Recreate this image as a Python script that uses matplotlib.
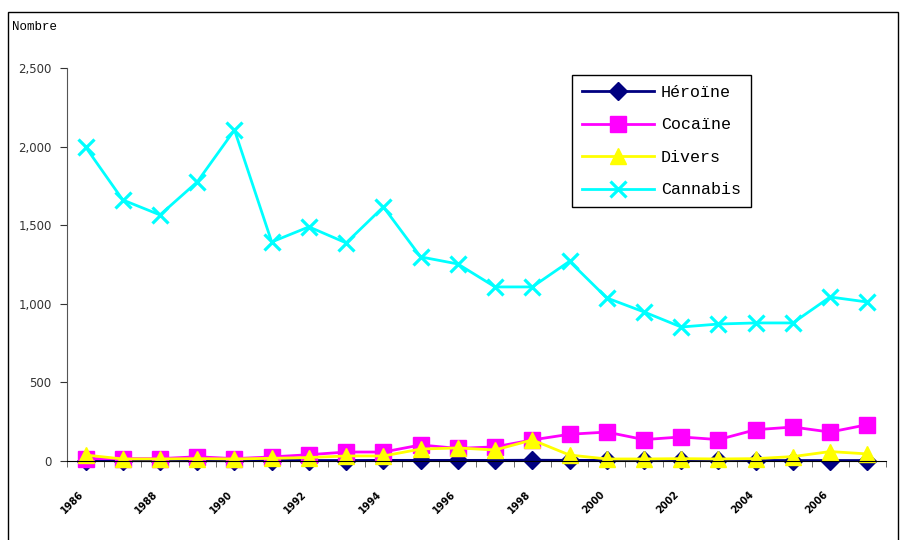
import numpy as np
import matplotlib.pyplot as plt
import matplotlib.transforms as mtransforms
from matplotlib.patches import Rectangle

years = [str(y) for y in range(1986, 2008)]
heroine = [3, 2, 2, 2, 2, 3, 3, 3, 4, 4, 4, 4, 5, 4, 4, 5, 5, 4, 3, 3, 3, 3]
cocaine = [15, 15, 15, 27, 15, 26, 40, 57, 57, 102, 80, 90, 134, 170, 184, 136,
           153, 136, 199, 216, 184, 231]
divers = [38, 13, 13, 15, 13, 17, 22, 32, 32, 76, 83, 70, 134, 38, 13, 13,
          15, 13, 15, 28, 60, 45]
cannabis = [1997, 1660, 1565, 1775, 2105, 1393, 1489, 1387, 1616, 1298, 1253,
            1107, 1107, 1270, 1037, 948, 852, 871, 878, 878, 1043, 1011]

series = [
    ("Héroïne", heroine, "#000080", "D", 9),
    ("Cocaïne", cocaine, "#ff00ff", "s", 11.5),
    ("Divers", divers, "#ffff00", "^", 12),
    ("Cannabis", cannabis, "#00ffff", "x", 12),
]

fig = plt.figure(figsize=(9, 5.4), dpi=100)
ax = fig.add_axes([0.0744, 0.1463, 0.91, 0.728])
x = np.arange(len(years))

for name, vals, col, mk, ms in series:
    kw = dict(markeredgewidth=2.3) if mk == "x" else dict(markeredgecolor=col)
    ax.plot(x, vals, color=col, lw=2.0, marker=mk, ms=ms, label=name,
            clip_on=False, **kw)

ax.set_xlim(-0.5, len(years) - 0.5)
ax.set_ylim(0, 2500)
ax.set_yticks(range(0, 2501, 500))
ax.set_yticklabels(["0", "500", "1,000", "1,500", "2,000", "2,500"],
                   fontsize=8.5, color="#333333")
ax.set_xticks(x[::2])
ax.set_xticklabels(years[::2], rotation=45, ha="right", fontsize=7,
                   fontweight="bold")
shift = mtransforms.ScaledTranslation(-14 / 100, 0, fig.dpi_scale_trans)
for lab in ax.get_xticklabels():
    lab.set_transform(lab.get_transform() + shift)
ax.set_xticks(np.arange(-0.5, len(years)), minor=True)
ax.tick_params(axis="x", which="major", length=0, pad=20)
ax.tick_params(axis="x", which="minor", length=4, color="#555555")
ax.tick_params(axis="y", length=5, color="#333333", pad=6)
ax.spines["top"].set_visible(False)
ax.spines["right"].set_visible(False)
ax.spines["left"].set_color("#555555")
ax.spines["bottom"].set_color("#000000")

leg = ax.legend(loc="upper left", bbox_to_anchor=(0.6166, 0.982),
                prop={"family": "Liberation Mono", "size": 12},
                handlelength=4.3, handletextpad=0.45, labelspacing=1.05,
                borderpad=0.6, borderaxespad=0, fancybox=False,
                framealpha=1, edgecolor="black")
leg.get_frame().set_linewidth(1.0)

fig.text(0.013, 0.95, "Nombre", fontsize=9, family="Liberation Mono",
         va="center")
fig.patches.append(Rectangle((0.0089, -0.1), 0.9889, 1.078, fill=False,
                             edgecolor="black", lw=1,
                             transform=fig.transFigure, figure=fig))

fig.savefig("out.png", dpi=100)
